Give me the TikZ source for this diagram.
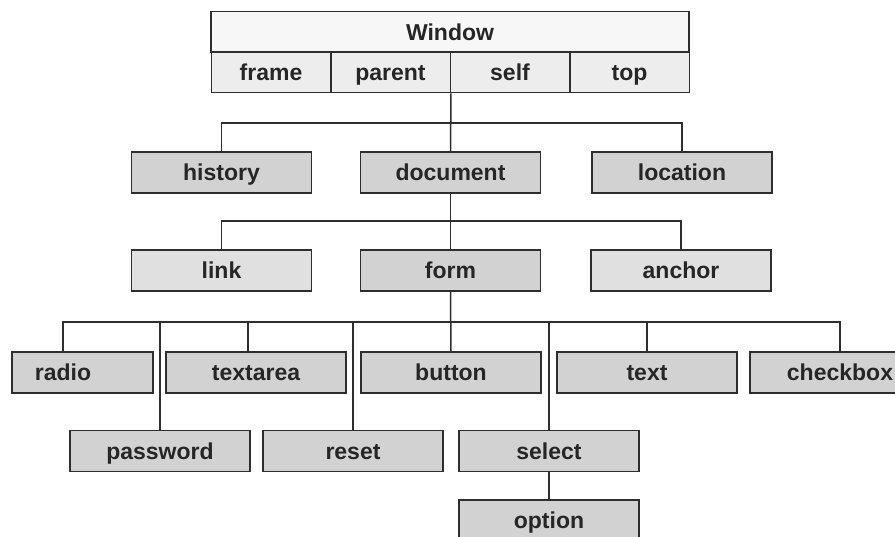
\documentclass[tikz,border=0pt]{standalone}
\usepackage{fontspec}
\setmainfont{Liberation Sans}
\definecolor{boxgray}{HTML}{D2D2D2}
\definecolor{boxlight}{HTML}{E0E0E0}
\definecolor{cellgray}{HTML}{EDEDED}
\definecolor{edgegray}{HTML}{2E2E2E}
\begin{document}
\begin{tikzpicture}[x=1pt,y=-1pt]
      \useasboundingbox (0,0) rectangle (895,537);

      \tikzset{box/.style={rectangle, draw=edgegray, line width=1.5pt, fill=boxgray,
          minimum width=180pt, minimum height=41pt, inner sep=0pt,
          text height=16.5pt, text depth=0pt,
          font=\fontsize{23}{25}\selectfont\bfseries, text=black!85}}

      % Window table
      \begin{scope}[every node/.style={box, minimum height=40.5pt}]
        \node[fill=white!97!black, minimum width=478pt] (window) at (450,32) {Window};
        \node[fill=cellgray, minimum width=119.5pt] (frame)  at (271,72.5)  {frame};
        \node[fill=cellgray, minimum width=119.5pt] (parent) at (390.5,72.5) {parent};
        \node[fill=cellgray, minimum width=119.5pt] (self)   at (510,72.5)  {self};
        \node[fill=cellgray, minimum width=119.5pt] (top)    at (629.5,72.5) {top};
      \end{scope}

      % objects
      \node[box] (history)  at (221.5,172.5) {history};
      \node[box] (document) at (450.5,172.5) {document};
      \node[box] (location) at (682,172.5)   {location};
      \node[box, fill=boxlight] (link)   at (221.5,270.5) {link};
      \node[box] (form)                  at (450.5,270.5) {form};
      \node[box, fill=boxlight] (anchor) at (681,270.5)   {anchor};

      \node[box, minimum width=141pt] (radiobox) at (82.5,372.5) {};
      \node[box, draw=none, fill=none, minimum width=0pt] (radio) at (63,372.5) {radio};
      \node[box] (textarea) at (256,372.5) {textarea};
      \node[box] (button)   at (451,372.5) {button};
      \node[box] (text)     at (647,372.5) {text};
      \node[box] (checkbox) at (840,372.5) {checkbox};
      \node[box] (password) at (160,451)   {password};
      \node[box] (reset)    at (353,451)   {reset};
      \node[box] (select)   at (549,451)   {select};
      \node[box] (option)   at (549,520.5) {option};

      \coordinate (bus1) at (450,123);
      \coordinate (bus2) at (450,221);
      \coordinate (bus3) at (450,322);

      \begin{scope}[draw=edgegray, line width=1.5pt]
        \draw (parent.south east) -- (document.north);
        \draw (history.north) |- (bus1) -| (location.north);
        \draw (document.south) -- (form.north);
        \draw (link.north) |- (bus2) -| (anchor.north);
        \draw (form.south) -- (button.north);
        \draw (radiobox.north -| radio) |- (bus3) -| (checkbox.north);
        \draw ([xshift=-8pt]textarea.north |- bus3) -- ([xshift=-8pt]textarea.north);
        \draw (bus3 -| text) -- (text.north);
        \draw (bus3 -| password) -- (password.north);
        \draw (bus3 -| reset) -- (reset.north);
        \draw (bus3 -| select) -- (select.north);
        \draw (select) -- (option);
      \end{scope}

\end{tikzpicture}
\end{document}
